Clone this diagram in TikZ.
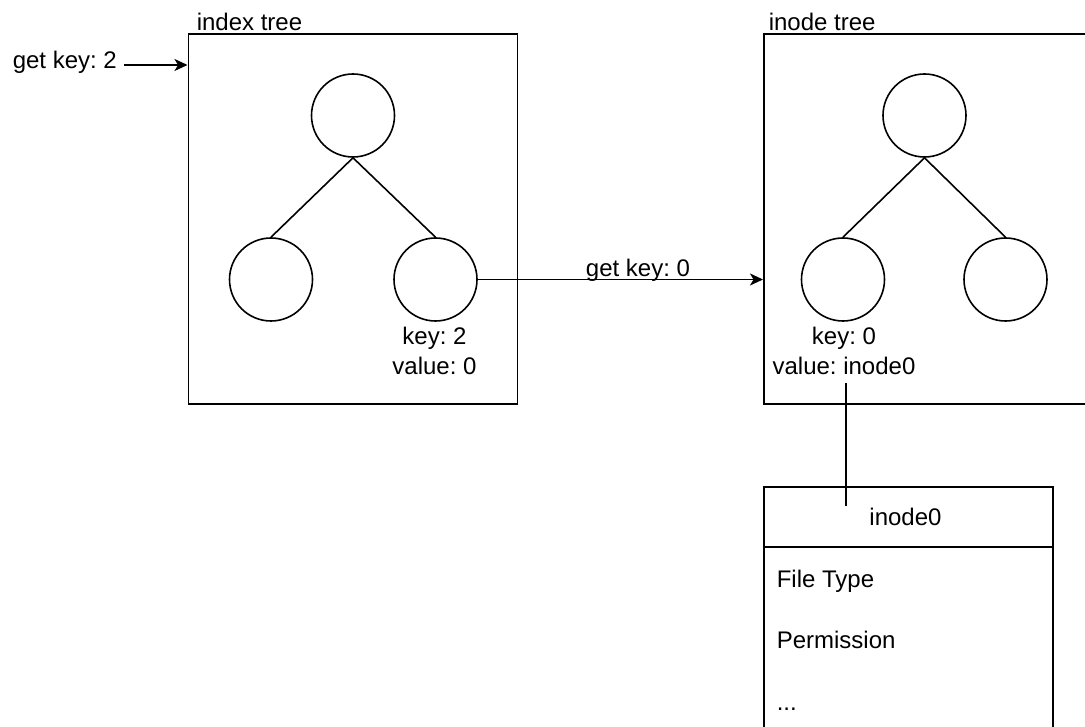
\documentclass[tikz,border=0pt]{standalone}
\usepackage{fontspec}
\setmainfont{Liberation Sans}
\usetikzlibrary{arrows.meta}
\frenchspacing
\begin{document}
\begin{tikzpicture}[x=1pt,y=-1pt,
  line width=1.6pt,
  every node/.style={font=\fontsize{24}{28}\selectfont, inner sep=0pt},
  frame/.style={draw, rectangle, anchor=north west},
  treenode/.style={draw, circle, minimum size=83pt, inner sep=0pt},
  arrowlink/.style={draw, -{Stealth[length=13pt,width=12pt,inset=3.5pt]}},
  txt/.style={anchor=base},
  txtl/.style={anchor=base west}
]
\clip (0,0) rectangle (1085,727);
\useasboundingbox (0,0) rectangle (1085,727);

% ---- index tree ----
\node[frame, minimum width=329pt, minimum height=369.5pt] (ibox) at (187.5,33.5) {};
\node[txtl] (ilabel) at (196,31) {index tree};
\node[treenode] (iroot)  at (353,115.5) {};
\node[treenode] (ileft)  at (271,279.5) {};
\node[treenode] (iright) at (435.5,279.5) {};
\draw (iroot.south) -- (ileft.north);
\draw (iroot.south) -- (iright.north);
\node[txt] (ikey) at (434.5,345) {key: 2};
\node[txt] (ival) at (434.5,375) {value: 0};

% ---- entry request ----
\node[txtl] (req) at (12,69) {get key: 2};
\coordinate (reqstart) at (124,65);
\draw[arrowlink] (reqstart) -- (ibox.west |- reqstart);

% ---- inode tree ----
\node[frame, minimum width=330pt, minimum height=369.5pt] (nbox) at (763,33.5) {};
\node[txtl] (nlabel) at (768,31) {inode tree};
\node[treenode] (nroot)  at (924.5,115.5) {};
\node[treenode] (nleft)  at (843,279.5) {};
\node[treenode] (nright) at (1005.5,279.5) {};
\draw (nroot.south) -- (nleft.north);
\draw (nroot.south) -- (nright.north);
\node[txt] (nkey) at (844,345) {key: 0};
\node[txt] (nval) at (844,375) {value: inode0};

% ---- lookup from index tree into inode tree ----
\draw[arrowlink] (iright.east) -- (nbox.west |- iright.east);
\node[txt] (lookup) at (638,277) {get key: 0};

% ---- inode record ----
\node[frame, minimum width=289pt, minimum height=300pt] (rec) at (763,486) {};
\draw (763,547) -- (1052,547);
\node[txt] (rectitle) at (905.5,525) {inode0};
\node[txtl] (f1) at (776,587) {File Type};
\node[txtl] (f2) at (776,648) {Permission};
\node[txtl] (f3) at (776,710) {...};
\coordinate (valtop) at (846,383);
\coordinate (valend) at (846,506);
\draw (valtop) -- (valend);
\end{tikzpicture}
\end{document}
